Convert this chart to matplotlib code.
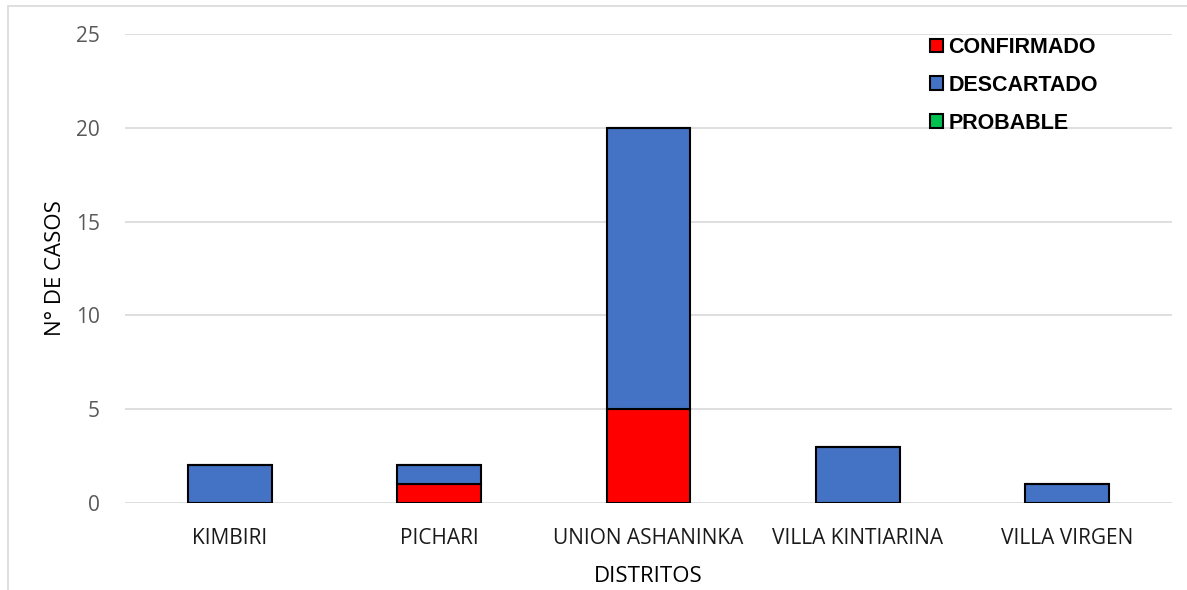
import matplotlib
matplotlib.use("Agg")
import matplotlib.pyplot as plt
from matplotlib.patches import Rectangle
import numpy as np

categories = ["KIMBIRI", "PICHARI", "UNION ASHANINKA", "VILLA KINTIARINA", "VILLA VIRGEN"]
confirmado = [0, 1, 5, 0, 0]
descartado = [2, 1, 15, 3, 1]
probable = [0, 0, 0, 0, 0]
yticks = [0, 5, 10, 15, 20, 25]

W, H = 1187, 590
fig = plt.figure(figsize=(W / 100, H / 100), dpi=100)
fig.patch.set_facecolor("white")
# outer chart border
fig.add_artist(Rectangle((8 / W, -0.05), 1.2, 1 - 6 / H + 0.05, transform=fig.transFigure,
                         fill=False, edgecolor="#d9d9d9", linewidth=1.2))

ax = fig.add_axes([125 / W, 1 - 503 / H, (1172 - 125) / W, (503 - 34) / H])
x = np.arange(len(categories))
bw = 0.4
conf = np.array(confirmado)
desc = np.array(descartado)
prob = np.array(probable)
ax.bar(x, conf, bw, color="#ff0000", edgecolor="black", linewidth=1.5, label="CONFIRMADO", zorder=3)
ax.bar(x, desc, bw, bottom=conf, color="#4472c4", edgecolor="black", linewidth=1.5, label="DESCARTADO", zorder=3)
ax.bar(x, prob, bw, bottom=conf + desc, color="#00c050", edgecolor="black", linewidth=1.5, label="PROBABLE", zorder=3)

ax.set_xlim(-0.5, len(categories) - 0.5)
ax.set_ylim(0, 25)
ax.set_yticks(yticks)
ax.yaxis.grid(True, color="#d9d9d9", linewidth=1.2, zorder=0)
ax.set_axisbelow(True)
for s in ax.spines.values():
    s.set_visible(False)
ax.tick_params(axis="both", length=0)
ax.tick_params(axis="y", labelsize=15, labelcolor="#595959", pad=18)
ax.tick_params(axis="x", labelsize=15, labelcolor="#1a1a1a", pad=18)
ax.set_xticks(x)
ax.set_xticklabels(categories, fontfamily="Open Sans")
for lab in ax.get_yticklabels():
    lab.set_fontfamily("Open Sans")
ax.set_xlabel("DISTRITOS", fontsize=16, fontfamily="Open Sans", color="black", labelpad=12)
ax.set_ylabel("N° DE CASOS", fontsize=16, fontfamily="Open Sans", color="black")
ax.yaxis.set_label_coords((66 - 125) / (1172 - 125), 0.5)

handles, labels = ax.get_legend_handles_labels()
leg = ax.legend(handles, labels, loc="upper left", bbox_to_anchor=((928 - 125) / (1172 - 125), 0.998),
                frameon=False, prop={"family": "Liberation Sans", "weight": "bold", "size": 15.5},
                handlelength=0.6, handleheight=0.6, handletextpad=0.25, labelspacing=0.78,
                borderaxespad=0.0, borderpad=0.1)

fig.savefig("out.png", dpi=100, facecolor="white")
